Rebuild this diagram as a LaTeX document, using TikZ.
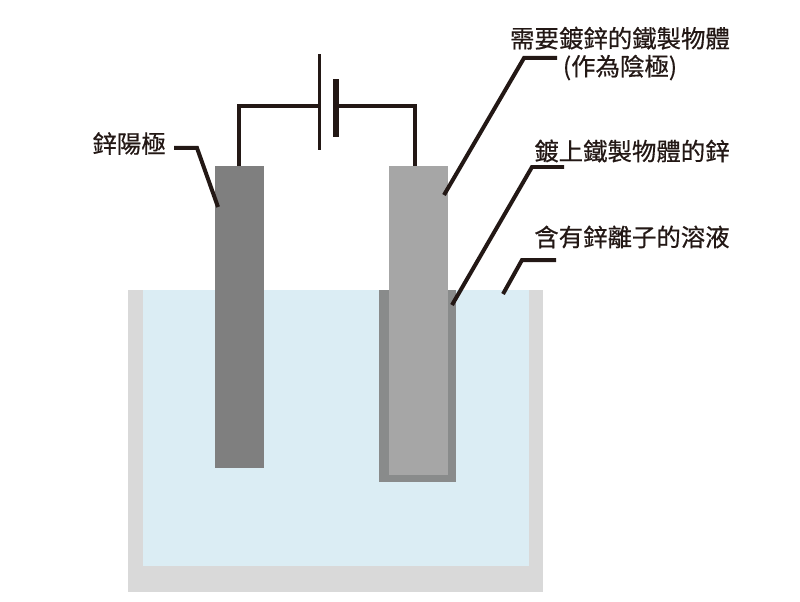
\documentclass[tikz,border=0pt]{standalone}
\usepackage{fontspec}
\setmainfont[FakeBold=0.5]{Noto Sans CJK TC}
\usepackage{tikz}
\usetikzlibrary{positioning,calc}
\definecolor{lineblack}{HTML}{231815}
\definecolor{anodegray}{HTML}{7F7F7F}
\definecolor{cathodegray}{HTML}{A6A6A6}
\definecolor{coatgray}{HTML}{898B8B}
\definecolor{tankgray}{HTML}{D9D9D9}
\definecolor{liquidblue}{HTML}{DBEDF4}
\tikzset{
    block/.style={inner sep=0pt, outer sep=0pt, draw=none},
    caption/.style={font=\fontsize{13.9}{15.9}\selectfont, text=lineblack, align=center, inner sep=0pt},
    wire/.style={draw=lineblack, line width=0.08cm},
    leader/.style={draw=lineblack, line width=0.08cm, line join=miter}
}

\begin{document}
\begin{tikzpicture}[x=0.02cm, y=-0.02cm]
        \useasboundingbox (0,0) rectangle (800,601);

        % tank and plating bath
        \node[block, fill=tankgray, minimum width=8.3cm, minimum height=6.05cm] (tank) at (335.3,441) {};
        \node[block, fill=liquidblue, minimum width=7.72cm, minimum height=5.53cm] (liquid) at (336,428) {};

        % electrodes
        \node[block, fill=anodegray, minimum width=0.97cm, minimum height=6.04cm] (anode) at (239.5,317) {};
        \node[block, fill=coatgray, minimum width=1.53cm, minimum height=3.85cm] (coating) at (417.6,386) {};
        \node[block, fill=cathodegray, minimum width=1.19cm, minimum height=6.18cm] (cathode) at (418.3,320.5) {};

        % battery
        \node[block, fill=lineblack, minimum width=0.07cm, minimum height=1.92cm] (longplate) at (319.5,102) {};
        \node[block, fill=lineblack, minimum width=0.12cm, minimum height=1.16cm] (shortplate) at (335.7,108) {};
        \coordinate (cathodetop) at (415,166);
        \coordinate (anodetop) at (239,166);
        \coordinate (longjoin) at (319.5,106);
        \coordinate (shortjoin) at (335.7,106);
        \draw[wire] (anodetop) |- (longjoin);
        \draw[wire] (cathodetop) |- (shortjoin);

        % labels
        \node[caption, anchor=east] (anodelabel) at (166,143.5) {鋅陽極};
        \node[caption] (cathodelabel) at (620,53.5) {需要鍍鋅的鐵製物體\\(作為陰極)};
        \node[caption, anchor=east] (coatlabel) at (730,151) {鍍上鐵製物體的鋅};
        \node[caption, anchor=east] (liquidlabel) at (730,237) {含有鋅離子的溶液};

        % leader lines
        \coordinate (anodestart) at (174,148);
        \coordinate (anodebend) at (197,148);
        \coordinate (anodetip) at (218,207);
        \coordinate (cathodestart) at (557,58);
        \coordinate (cathodebend) at (524,58);
        \coordinate (cathodetip) at (444,195);
        \coordinate (coatstart) at (564,167);
        \coordinate (coatbend) at (532,167);
        \coordinate (coattip) at (452,305);
        \coordinate (liquidstart) at (556,260);
        \coordinate (liquidbend) at (522,260);
        \coordinate (liquidtip) at (503,294);
        \draw[leader] (anodestart) -- (anodebend) -- (anodetip);
        \draw[leader] (cathodestart) -- (cathodebend) -- (cathodetip);
        \draw[leader] (coatstart) -- (coatbend) -- (coattip);
        \draw[leader] (liquidstart) -- (liquidbend) -- (liquidtip);
    \end{tikzpicture}
\end{document}
